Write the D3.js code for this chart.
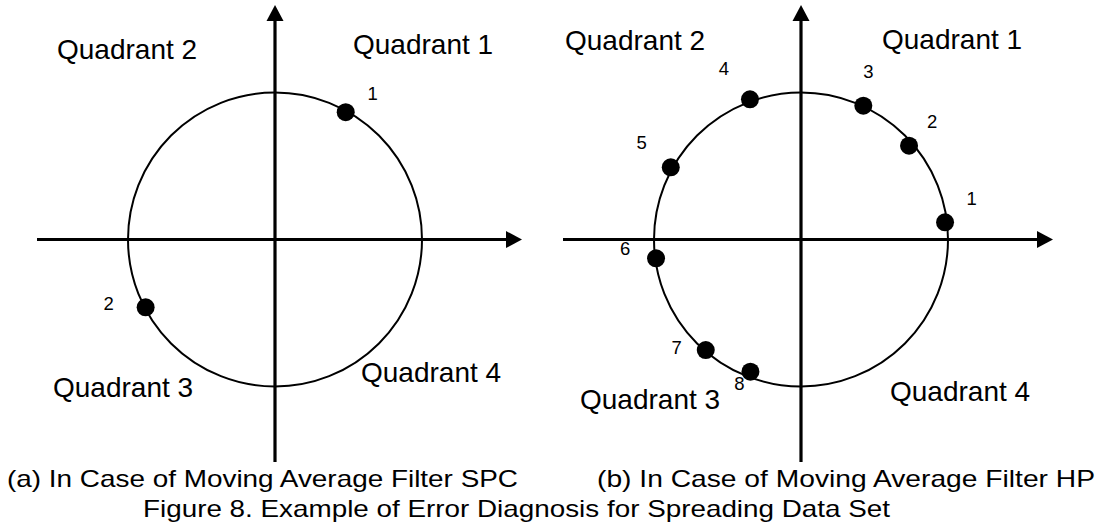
<!DOCTYPE html>
<html>
<head>
<meta charset="utf-8">
<script src="https://cdn.jsdelivr.net/npm/d3@7/dist/d3.min.js"></script>
<style>
  html, body { margin: 0; padding: 0; background: #fff; }
  svg text { font-family: "Liberation Sans", Arial, Helvetica, sans-serif; fill: #000; }
</style>
</head>
<body>
<svg id="chart" width="1107" height="529"></svg>
<script>
// ---------- DATA ----------
const quadrantNames = ["Quadrant 1", "Quadrant 2", "Quadrant 3", "Quadrant 4"];
// Panel (a): Moving Average Filter SPC — points on the unit circle (x, y)
const spcLabels = ["1", "2"];
const spcX = [0.481, -0.880];
const spcY = [0.866, -0.461];
// Panel (b): Moving Average Filter HP
const hpLabels = ["1", "2", "3", "4", "5", "6", "7", "8"];
const hpX = [0.980, 0.735, 0.424, -0.347, -0.886, -0.986, -0.648, -0.344];
const hpY = [0.117, 0.638, 0.910, 0.954, 0.491, -0.128, -0.752, -0.899];
const circleRadius = 1;
const subCaptions = ["(a) In Case of Moving Average Filter SPC", "(b) In Case of Moving Average Filter HP"];
const figureCaption = "Figure 8. Example of Error Diagnosis for Spreading Data Set";

// ---------- LAYOUT ----------
const R = 147;
const panels = [
  {
    cx: 275, cy: 239.5, xLeft: 37, xRight: 522, yTop: 5, yBottom: 462,
    labels: spcLabels, xs: spcX, ys: spcY,
    labelOff: [[27, -19], [-37, -4]],
    quad: [[353, 54], [57, 59], [53, 397], [361, 382]],
    caption: subCaptions[0], capX: 7, capLen: 511
  },
  {
    cx: 801, cy: 239.5, xLeft: 563, xRight: 1053, yTop: 5, yBottom: 462,
    labels: hpLabels, xs: hpX, ys: hpY,
    labelOff: [[26.5, -24], [23, -24], [5, -34], [-26, -31], [-29, -25], [-31, -10], [-29, -3], [-11, 12]],
    quad: [[882, 49], [565, 50], [580, 409], [890, 401]],
    caption: subCaptions[1], capX: 597, capLen: 498
  }
];

const svg = d3.select("#chart");
const arrowLen = 16, arrowHalf = 8.5;

panels.forEach(p => {
  const x = d3.scaleLinear().domain([-1, 1]).range([p.cx - R, p.cx + R]);
  const y = d3.scaleLinear().domain([-1, 1]).range([p.cy + R, p.cy - R]);
  const g = svg.append("g");

  // circle
  g.append("circle")
    .attr("cx", x(0)).attr("cy", y(0))
    .attr("r", x(circleRadius) - x(0))
    .attr("fill", "none").attr("stroke", "#000").attr("stroke-width", 2);

  // horizontal axis
  g.append("line")
    .attr("x1", p.xLeft).attr("x2", p.xRight - arrowLen + 1)
    .attr("y1", y(0)).attr("y2", y(0))
    .attr("stroke", "#000").attr("stroke-width", 3.2);
  g.append("path")
    .attr("d", `M${p.xRight},${y(0)} L${p.xRight - arrowLen},${y(0) - arrowHalf} L${p.xRight - arrowLen},${y(0) + arrowHalf} Z`)
    .attr("fill", "#000");

  // vertical axis
  g.append("line")
    .attr("x1", x(0)).attr("x2", x(0))
    .attr("y1", p.yBottom).attr("y2", p.yTop + arrowLen - 1)
    .attr("stroke", "#000").attr("stroke-width", 3.2);
  g.append("path")
    .attr("d", `M${x(0)},${p.yTop} L${x(0) - arrowHalf},${p.yTop + arrowLen} L${x(0) + arrowHalf},${p.yTop + arrowLen} Z`)
    .attr("fill", "#000");

  // points
  const pts = p.labels.map((l, i) => ({ label: l, x: p.xs[i], y: p.ys[i], off: p.labelOff[i] }));
  g.selectAll("circle.pt").data(pts).join("circle")
    .attr("class", "pt")
    .attr("cx", d => x(d.x)).attr("cy", d => y(d.y))
    .attr("r", 9).attr("fill", "#000");

  g.selectAll("text.pl").data(pts).join("text")
    .attr("class", "pl")
    .attr("x", d => x(d.x) + d.off[0])
    .attr("y", d => y(d.y) + d.off[1] + 6.6)
    .attr("text-anchor", "middle")
    .attr("font-size", 18.5)
    .text(d => d.label);

  // quadrant labels
  g.selectAll("text.q").data(quadrantNames).join("text")
    .attr("class", "q")
    .attr("x", (d, i) => p.quad[i][0])
    .attr("y", (d, i) => p.quad[i][1])
    .attr("font-size", 28)
    .text(d => d);

  // sub caption
  svg.append("text")
    .attr("x", p.capX).attr("y", 487)
    .attr("font-size", 24)
    .attr("textLength", p.capLen)
    .attr("lengthAdjust", "spacingAndGlyphs")
    .text(p.caption);
});

svg.append("text")
  .attr("x", 143).attr("y", 516.5)
  .attr("font-size", 24)
  .attr("textLength", 747)
  .attr("lengthAdjust", "spacingAndGlyphs")
  .text(figureCaption);
</script>
</body>
</html>
